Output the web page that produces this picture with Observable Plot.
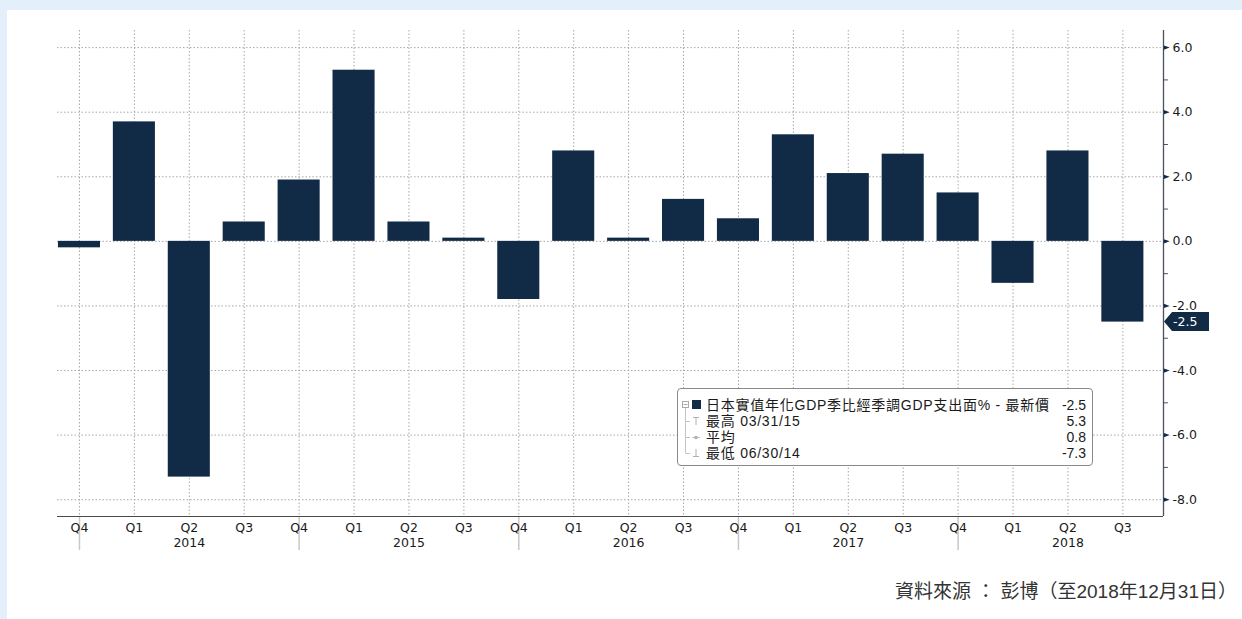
<!DOCTYPE html>
<html>
<head>
<meta charset="utf-8">
<script src="https://cdn.jsdelivr.net/npm/d3@7"></script>
<script src="https://cdn.jsdelivr.net/npm/@observablehq/plot@0.6"></script>
<style>
  html, body { margin: 0; padding: 0; }
  body { width: 1242px; height: 619px; overflow: hidden; }
  #wrap { position: relative; width: 1242px; height: 619px; background: #e3f0fb; }
  #panel { position: absolute; left: 7px; top: 10px; right: 0; bottom: 0; background: #fff; }
  #chart { position: absolute; left: 0; top: 0; }
  #legend { position: absolute; left: 677px; top: 388px; width: 414px; height: 76px;
    border: 1px solid #8a8a8a; border-radius: 4px; background: #fff;
    font-family: "Liberation Sans", "Noto Sans CJK TC", sans-serif; font-size: 14px; color: #1a1a1a; }
  #legend .row { position: absolute; left: 28px; right: 6px; height: 16px; line-height: 16px; white-space: nowrap; }
  #legend .row .t { letter-spacing: 0.75px; }
  #legend .row .v { position: absolute; right: 0; top: 0; }
  #legend svg { position: absolute; left: 0; top: 0; }
  #caption { position: absolute; right: 5px; top: 576px; font-family: "Liberation Sans", "Noto Sans CJK TC", sans-serif;
    font-size: 19px; color: #333; white-space: nowrap; }
</style>
</head>
<body>
<div id="wrap">
  <div id="panel"></div>
  <div id="chart"></div>
  <div id="legend"></div>
  <div id="caption"></div>
</div>
<script>
// ---- data ----
const quarters = ["Q4","Q1","Q2","Q3","Q4","Q1","Q2","Q3","Q4","Q1","Q2","Q3","Q4","Q1","Q2","Q3","Q4","Q1","Q2","Q3"];
const years    = ["2013","2014","2014","2014","2014","2015","2015","2015","2015","2016","2016","2016","2016","2017","2017","2017","2017","2018","2018","2018"];
const values   = [-0.2, 3.7, -7.3, 0.6, 1.9, 5.3, 0.6, 0.1, -1.8, 2.8, 0.1, 1.3, 0.7, 3.3, 2.1, 2.7, 1.5, -1.3, 2.8, -2.5];
const yTicks   = [-8, -6, -4, -2, 0, 2, 4, 6];
const yMinor   = [-7, -5, -3, -1, 1, 3, 5];
const legendLabels = ["日本實值年化GDP季比經季調GDP支出面% - 最新價", "最高 03/31/15", "平均", "最低 06/30/14"];
const legendValues = ["-2.5", "5.3", "0.8", "-7.3"];
const captionText = "資料來源 ： 彭博（至2018年12月31日）";

const navy = "#112a46";
const data = quarters.map((q, i) => ({i, q, year: years[i], value: values[i]}));
const yearLabels = data.filter(d => d.q === "Q2");
const separators = data.filter(d => d.q === "Q4");
const latest = values[values.length - 1];

const xMin = -0.4, xMax = 19.74;
const yMin = -8.52, yMax = 6.53;
const half = 0.383;

const triRight = {
  draw(ctx, size) {
    const s = Math.sqrt(size) / 2;
    ctx.moveTo(-s, -s * 0.8);
    ctx.lineTo(s * 1.2, 0);
    ctx.lineTo(-s, s * 0.8);
    ctx.closePath();
  }
};

const axisFont = "DejaVu Sans, Verdana, sans-serif";

const tagMark = (index, {x, y}) => {
  const px = x(xMax), py = y(latest);
  const g = d3.create("svg:g");
  g.append("path")
    .attr("d", `M${px + 1},${py} L${px + 9},${py - 9.5} H${px + 46} V${py + 9.5} H${px + 9} Z`)
    .attr("fill", navy);
  g.append("text")
    .attr("x", px + 10).attr("y", py).attr("dy", "0.36em")
    .attr("text-anchor", "start")
    .attr("fill", "#fff").attr("font-size", 12.5).attr("font-family", axisFont)
    .text(latest.toFixed(1));
  return g.node();
};

const plot = Plot.plot({
  width: 1242,
  height: 565,
  marginLeft: 57,
  marginRight: 79,
  marginTop: 30,
  marginBottom: 49,
  style: {background: "transparent", fontFamily: axisFont, overflow: "visible"},
  x: {type: "linear", domain: [xMin, xMax], axis: null},
  y: {type: "linear", domain: [yMin, yMax], axis: null},
  marks: [
    Plot.ruleY(yTicks, {stroke: "#a8a8a8", strokeWidth: 1, strokeDasharray: "1.5,2"}),
    Plot.ruleX(data, {x: "i", stroke: "#a8a8a8", strokeWidth: 1, strokeDasharray: "1.5,2"}),
    Plot.rectY(data, {x1: d => d.i - half, x2: d => d.i + half, y1: 0, y2: "value", fill: navy}),
    Plot.ruleX(separators, {x: "i", y1: yMin, y2: yMin - 1.05, stroke: "#c8c8c8", strokeWidth: 1.5}),
    Plot.ruleY([yMin], {x1: xMin, x2: xMax, stroke: "#4a4a4a", strokeWidth: 1.2}),
    Plot.ruleX([xMax], {y1: yMin, y2: yMax, stroke: "#4a5060", strokeWidth: 1.3}),
    Plot.ruleY(yMinor, {x1: xMax, x2: xMax + 0.09, stroke: "#4a5060", strokeWidth: 1}),
    Plot.dot(yTicks, {x: () => xMax, y: d => d, symbol: triRight, r: 3, fill: navy, stroke: null, dx: 3}),
    Plot.text(yTicks, {x: () => xMax, y: d => d, text: d => d.toFixed(1), textAnchor: "start", dx: 9, fontSize: 12.5, fill: "#1a1a1a"}),
    Plot.text(data, {x: "i", y: () => yMin, text: "q", dy: 11, fontSize: 12.5, fill: "#1a1a1a"}),
    Plot.text(yearLabels, {x: "i", y: () => yMin, text: "year", dy: 26, fontSize: 12.5, fill: "#1a1a1a"}),
    tagMark
  ]
});
document.getElementById("chart").appendChild(plot);

// ---- legend ----
const rowStep = 16, row0 = 16;
const legend = d3.select("#legend");
const icons = legend.append("svg").attr("width", 28).attr("height", 76);
icons.append("line").attr("x1", 7.5).attr("x2", 7.5).attr("y1", row0 + 3).attr("y2", row0 + 3 * rowStep).attr("stroke", "#c4c4c4");
icons.append("rect").attr("x", 4.5).attr("y", row0 - 3.5).attr("width", 6).attr("height", 6).attr("fill", "#fff").attr("stroke", "#aaa");
icons.append("line").attr("x1", 5.5).attr("x2", 9.5).attr("y1", row0 - 0.5).attr("y2", row0 - 0.5).attr("stroke", "#aaa");
icons.append("rect").attr("x", 14).attr("y", row0 - 5).attr("width", 9).attr("height", 9).attr("fill", navy);
legendLabels.forEach((label, k) => {
  const cy = row0 + k * rowStep;
  if (k > 0) {
    icons.append("line").attr("x1", 7.5).attr("x2", 12).attr("y1", cy + 0.5).attr("y2", cy + 0.5).attr("stroke", "#c4c4c4");
  }
  const row = legend.append("div").attr("class", "row").style("top", (cy - 8) + "px");
  row.append("span").attr("class", "t").text(label);
  row.append("span").attr("class", "v").text(legendValues[k]);
});
// small markers: max (T), average (dot), min (inverted T)
const r1 = row0 + rowStep, r2 = row0 + 2 * rowStep, r3 = row0 + 3 * rowStep;
icons.append("line").attr("x1", 15).attr("x2", 21).attr("y1", r1 - 3.5).attr("y2", r1 - 3.5).attr("stroke", "#b0b0b0");
icons.append("line").attr("x1", 18).attr("x2", 18).attr("y1", r1 - 3.5).attr("y2", r1 + 4).attr("stroke", "#b0b0b0");
icons.append("line").attr("x1", 14).attr("x2", 22).attr("y1", r2 + 0.5).attr("y2", r2 + 0.5).attr("stroke", "#c4c4c4");
icons.append("circle").attr("cx", 18).attr("cy", r2 + 0.5).attr("r", 1.8).attr("fill", "#b0b0b0");
icons.append("line").attr("x1", 18).attr("x2", 18).attr("y1", r3 - 4).attr("y2", r3 + 3.5).attr("stroke", "#b0b0b0");
icons.append("line").attr("x1", 15).attr("x2", 21).attr("y1", r3 + 3.5).attr("y2", r3 + 3.5).attr("stroke", "#b0b0b0");

document.getElementById("caption").textContent = captionText;
</script>
</body>
</html>
